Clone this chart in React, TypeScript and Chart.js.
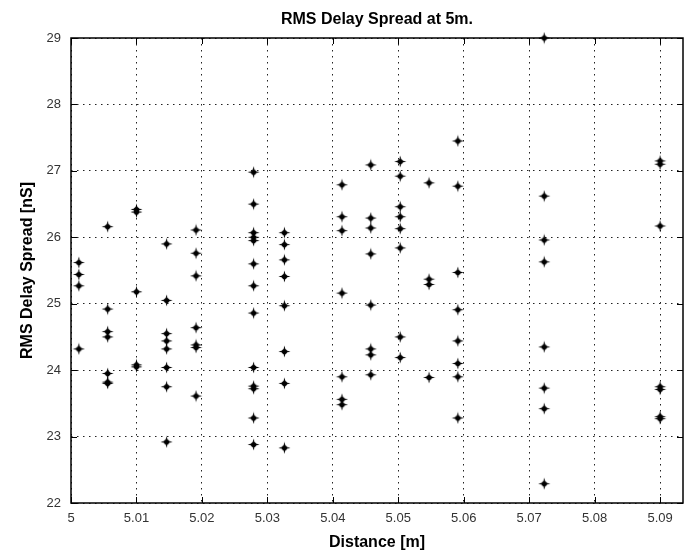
import React, { useEffect, useRef } from "react";
import { Chart, registerables } from "chart.js";

Chart.register(...registerables);

const chartTitle = "RMS Delay Spread at 5m.";
const xAxisTitle = "Distance [m]";
const yAxisTitle = "RMS Delay Spread [nS]";

const xTicks = [5, 5.01, 5.02, 5.03, 5.04, 5.05, 5.06, 5.07, 5.08, 5.09];
const xTickLabels = ["5", "5.01", "5.02", "5.03", "5.04", "5.05", "5.06", "5.07", "5.08", "5.09"];
const yTicks = [22, 23, 24, 25, 26, 27, 28, 29];
const xRange = [5, 5.0935];
const yRange = [22, 29];

// measurement positions (m)
const distances = [
  5.0012, 5.0056, 5.01, 5.0146, 5.0191, 5.0279, 5.0326,
  5.0414, 5.0458, 5.0503, 5.0547, 5.0591, 5.0723, 5.09,
];

// RMS delay spread values (nS) measured at each position
const delays: number[][] = [
  [25.62, 25.44, 25.27, 24.32],
  [26.16, 24.92, 24.58, 24.5, 23.95, 23.82, 23.8],
  [26.42, 26.38, 25.18, 24.08, 24.05],
  [25.9, 25.05, 24.55, 24.44, 24.32, 24.04, 23.75, 22.92],
  [26.11, 25.76, 25.42, 24.64, 24.38, 24.34, 23.61],
  [26.98, 26.5, 26.07, 26.0, 25.95, 25.6, 25.27, 24.86, 24.04, 23.76, 23.72, 23.28, 22.88],
  [26.07, 25.89, 25.66, 25.41, 24.97, 24.28, 23.8, 22.83],
  [26.79, 26.31, 26.1, 25.16, 23.9, 23.56, 23.48],
  [27.09, 26.29, 26.14, 25.75, 24.98, 24.32, 24.23, 23.93],
  [27.14, 26.92, 26.46, 26.31, 26.13, 25.84, 24.5, 24.19],
  [26.82, 25.37, 25.29, 23.89],
  [27.45, 26.77, 25.47, 24.91, 24.44, 24.1, 23.9, 23.28],
  [29.0, 26.62, 25.96, 25.63, 24.35, 23.73, 23.42, 22.29],
  [27.15, 27.1, 26.17, 23.75, 23.71, 23.3, 23.27],
];

function makeMarker(): HTMLCanvasElement {
  const c = document.createElement("canvas");
  c.width = 13;
  c.height = 13;
  const g = c.getContext("2d")!;
  const m = 6.5;
  g.fillStyle = "#000";
  g.beginPath();
  const R = 6;
  const r = 1.7;
  for (let i = 0; i < 8; i++) {
    const a = (i * Math.PI) / 4 - Math.PI / 2;
    const rad = i % 2 === 0 ? R : r;
    g.lineTo(m + rad * Math.cos(a), m + rad * Math.sin(a));
  }
  g.closePath();
  g.fill();
  g.beginPath();
  g.arc(m, m, 2.6, 0, Math.PI * 2);
  g.fill();
  return c;
}

const framePlugin = {
  id: "frameAndTicks",
  beforeDatasetsDraw(chart: any) {
    const { ctx, chartArea } = chart;
    const { left, right, top, bottom } = chartArea;
    const xs = chart.scales.x;
    const ys = chart.scales.y;
    ctx.save();
    ctx.strokeStyle = "#000";
    ctx.lineWidth = 1;
    ctx.setLineDash([]);
    ctx.beginPath();
    xs.ticks.forEach((t: any) => {
      const px = Math.round(xs.getPixelForValue(t.value)) + 0.5;
      ctx.moveTo(px, bottom);
      ctx.lineTo(px, bottom - 6);
      ctx.moveTo(px, top);
      ctx.lineTo(px, top + 6);
    });
    ys.ticks.forEach((t: any) => {
      const py = Math.round(ys.getPixelForValue(t.value)) + 0.5;
      ctx.moveTo(left, py);
      ctx.lineTo(left + 6, py);
      ctx.moveTo(right, py);
      ctx.lineTo(right - 6, py);
    });
    ctx.stroke();
    ctx.lineWidth = 1.5;
    ctx.strokeRect(left, top, right - left, bottom - top);
    ctx.restore();
  },
};

export default function App() {
  const ref = useRef<HTMLCanvasElement | null>(null);

  useEffect(() => {
    if (!ref.current) return;
    const points: { x: number; y: number }[] = [];
    distances.forEach((d, i) => {
      delays[i].forEach((v) => points.push({ x: d, y: v }));
    });
    const marker = makeMarker();
    const font = "'Liberation Sans', Arial, Helvetica, sans-serif";

    const chart = new Chart(ref.current, {
      type: "scatter",
      data: {
        datasets: [
          {
            data: points,
            pointStyle: marker as any,
            pointRadius: 6,
            clip: false as any,
          },
        ],
      },
      plugins: [framePlugin],
      options: {
        animation: false,
        responsive: false,
        layout: { padding: { left: 0, right: 4, top: 0, bottom: 0 } },
        plugins: {
          legend: { display: false },
          tooltip: { enabled: false },
          title: {
            display: true,
            fullSize: false,
            text: chartTitle,
            color: "#000",
            font: { family: font, size: 16, weight: "bold" },
            padding: { top: 10, bottom: 8.8 },
          },
        },
        scales: {
          x: {
            type: "linear",
            min: xRange[0],
            max: xRange[1],
            afterBuildTicks: (s: any) => {
              s.ticks = xTicks.map((v) => ({ value: v }));
            },
            afterFit: (s: any) => {
              s.height = 50;
            },
            ticks: {
              autoSkip: false,
              maxRotation: 0,
              padding: 8,
              color: "#333",
              font: { family: font, size: 13 },
              callback: (_v: any, i: number) => xTickLabels[i],
            },
            grid: { color: "#222", lineWidth: 1, drawTicks: false },
            border: { display: false, dash: [1.5, 4.5] },
            title: {
              display: true,
              text: xAxisTitle,
              color: "#000",
              font: { family: font, size: 16, weight: "bold" },
              padding: { top: 0, bottom: 1 },
            },
          },
          y: {
            type: "linear",
            min: yRange[0],
            max: yRange[1],
            afterBuildTicks: (s: any) => {
              s.ticks = yTicks.map((v) => ({ value: v }));
            },
            afterFit: (s: any) => {
              s.width = 71;
            },
            ticks: {
              padding: 10,
              color: "#333",
              font: { family: font, size: 13 },
              callback: (v: any) => String(v),
            },
            grid: { color: "#222", lineWidth: 1, drawTicks: false },
            border: { display: false, dash: [1.5, 4.5] },
            title: {
              display: true,
              text: yAxisTitle,
              color: "#000",
              font: { family: font, size: 16, weight: "bold" },
              padding: { top: 18, bottom: 0 },
            },
          },
        },
      },
    });
    return () => chart.destroy();
  }, []);

  return (
    <div
      style={{
        position: "fixed",
        left: 0,
        top: 0,
        width: 690,
        height: 553,
        background: "#fff",
      }}
    >
      <canvas ref={ref} width={690} height={553} />
    </div>
  );
}
